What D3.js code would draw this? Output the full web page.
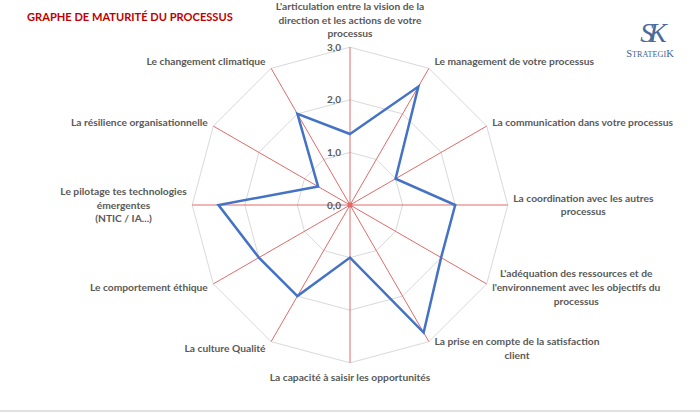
<!DOCTYPE html>
<html>
<head>
<meta charset="utf-8">
<script src="https://cdn.jsdelivr.net/npm/d3@7"></script>
<style>
  html, body { margin: 0; padding: 0; background: #ffffff; }
  svg { display: block; }
</style>
</head>
<body>
<svg id="chart" width="700" height="413"></svg>
<script>
// ---- data ----
const categories = [
  ["L'articulation entre la vision de la", "direction et les actions de votre", "processus"],
  ["Le management de votre processus"],
  ["La communication dans votre processus"],
  ["La coordination avec les autres", "processus"],
  ["L'adéquation des ressources et de", "l'environnement avec les objectifs du", "processus"],
  ["La prise en compte de la satisfaction", "client"],
  ["La capacité à saisir les opportunités"],
  ["La culture Qualité"],
  ["Le comportement éthique"],
  ["Le pilotage tes technologies", "émergentes", "(NTIC / IA...)"],
  ["La résilience organisationnelle"],
  ["Le changement climatique"]
];
const values = [1.35, 2.6, 1.0, 2.0, 2.0, 2.8, 1.0, 2.0, 2.0, 2.5, 0.7, 2.0];
const tickValues = [0, 1, 2, 3];
const tickLabels = ["0,0", "1,0", "2,0", "3,0"];
const title = "GRAPHE DE MATURITÉ DU PROCESSUS";

// ---- layout ----
const W = 700, H = 413;
const cx = 350, cy = 205;
const svg = d3.select("#chart");
const font = "Lato, 'Open Sans', sans-serif";
const textColor = "#595959";

const rScale = d3.scaleLinear().domain([0, 3]).range([0, 157.8]);
const angle = d3.scaleLinear().domain([0, categories.length]).range([0, 2 * Math.PI]);

const g = svg.append("g").attr("transform", `translate(${cx},${cy})`);
const pt = (i, v) => [Math.sin(angle(i)) * rScale(v), -Math.cos(angle(i)) * rScale(v)];

// grid polygons
const radial = d3.lineRadial().angle((d, i) => angle(i)).radius(d => rScale(d)).curve(d3.curveLinearClosed);
tickValues.forEach(t => {
  g.append("path")
    .attr("d", radial(categories.map(() => t)))
    .attr("fill", "none")
    .attr("stroke", "#d9d9d9")
    .attr("stroke-width", 1);
});

// spokes
categories.forEach((c, i) => {
  const [x, y] = pt(i, 3);
  g.append("line")
    .attr("x1", 0).attr("y1", 0).attr("x2", x).attr("y2", y)
    .attr("stroke", "#e06b6b").attr("stroke-width", 1);
});
g.append("circle").attr("r", 2.5).attr("fill", "#e06b6b");

// tick labels
tickValues.forEach((t, k) => {
  g.append("text")
    .attr("x", -9).attr("y", -rScale(t))
    .attr("dy", "0.35em")
    .attr("text-anchor", "end")
    .attr("font-family", font).attr("font-weight", 700).attr("font-size", 10)
    .attr("fill", textColor)
    .text(tickLabels[k]);
});

// series
g.append("path")
  .attr("d", radial(values))
  .attr("fill", "none")
  .attr("stroke", "#4472c4")
  .attr("stroke-width", 2.5)
  .attr("stroke-linejoin", "miter");

// category labels
const lh = 13.8;
categories.forEach((lines, i) => {
  const a = angle(i);
  const [ex, ey] = pt(i, 3);
  const s = Math.sin(a), c = Math.cos(a);
  const t = g.append("text")
    .attr("font-family", font).attr("font-weight", 700).attr("font-size", 10.25)
    .attr("fill", textColor)
    .attr("text-anchor", "middle");
  const spans = lines.map((l, k) => t.append("tspan").attr("x", 0).attr("y", k * lh).attr("dy", "0.35em").text(l));
  const maxW = d3.max(spans, sp => sp.node().getComputedTextLength());
  const n = lines.length;
  let bx, by; // block center
  if (Math.abs(s) < 0.01) {
    bx = ex;
    if (c > 0) by = ey - 7.5 - (n * lh) / 2 + 1; else by = ey + 9 + (n * lh) / 2 - 1;
  } else {
    bx = s > 0 ? ex + 5.5 + maxW / 2 : ex - 5.5 - maxW / 2;
    by = ey - c * 7.5;
  }
  const top = by - ((n - 1) * lh) / 2;
  spans.forEach((sp, k) => sp.attr("x", bx).attr("y", top + k * lh));
});

// title
svg.append("text")
  .attr("x", 27).attr("y", 17).attr("dy", "0.35em")
  .attr("font-family", font).attr("font-weight", 700).attr("font-size", 11.1)
  .attr("fill", "#c00000")
  .text(title);

// logo
const logo = svg.append("g");
logo.append("text")
  .attr("x", 651).attr("y", 42)
  .attr("text-anchor", "middle")
  .attr("font-family", "'Liberation Serif', 'DejaVu Serif', serif")
  .attr("font-size", 27).attr("font-style", "italic")
  .attr("letter-spacing", -5)
  .attr("fill", "#4a6a9c")
  .text("SK");
const lt = logo.append("text")
  .attr("x", 650).attr("y", 57)
  .attr("text-anchor", "middle")
  .attr("font-family", "'Liberation Serif', 'DejaVu Serif', serif")
  .attr("fill", "#3f5f92");
lt.append("tspan").attr("font-size", 10.5).text("S");
lt.append("tspan").attr("font-size", 8.2).text("TRATEGI");
lt.append("tspan").attr("font-size", 10.5).text("K");

// bottom rule
svg.append("line")
  .attr("x1", 0).attr("x2", W).attr("y1", 411).attr("y2", 411)
  .attr("stroke", "#d9d9d9").attr("stroke-width", 1.5);
</script>
</body>
</html>
